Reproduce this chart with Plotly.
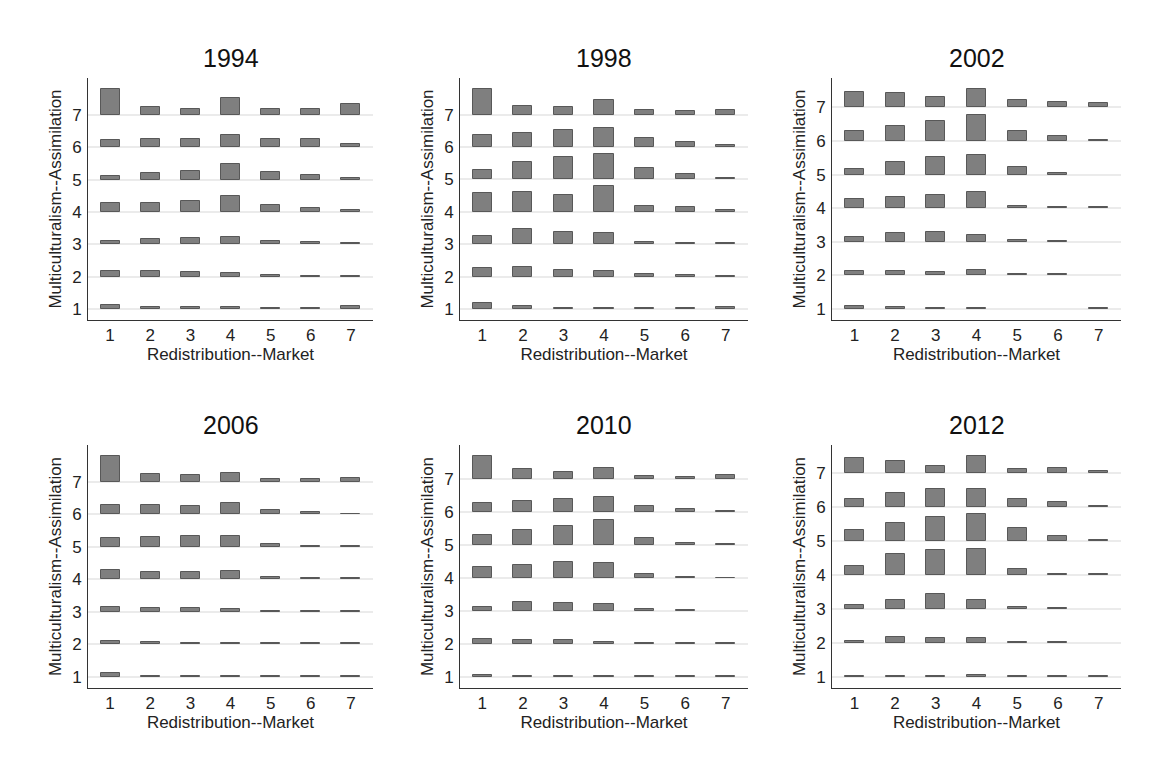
import plotly.graph_objects as go

years = ["1994", "1998", "2002", "2006", "2010", "2012"]
x_labels = [1, 2, 3, 4, 5, 6, 7]
y_levels = [1, 2, 3, 4, 5, 6, 7]

# heights of bars: rows = Multiculturalism--Assimilation level 1..7, cols = Redistribution--Market 1..7
h1994 = [
    [0.13, 0.06, 0.05, 0.07, 0.03, 0.03, 0.08],
    [0.19, 0.18, 0.13, 0.12, 0.06, 0.03, 0.03],
    [0.11, 0.16, 0.18, 0.22, 0.10, 0.08, 0.03],
    [0.29, 0.29, 0.34, 0.50, 0.21, 0.13, 0.07],
    [0.10, 0.21, 0.26, 0.48, 0.24, 0.15, 0.05],
    [0.21, 0.27, 0.26, 0.39, 0.25, 0.26, 0.10],
    [0.80, 0.24, 0.18, 0.51, 0.17, 0.17, 0.34],
]
h1998 = [
    [0.19, 0.10, 0.03, 0.03, 0.03, 0.03, 0.06],
    [0.26, 0.29, 0.21, 0.18, 0.08, 0.05, 0.03],
    [0.26, 0.48, 0.37, 0.34, 0.06, 0.03, 0.04],
    [0.59, 0.60, 0.52, 0.80, 0.18, 0.14, 0.05],
    [0.30, 0.55, 0.68, 0.77, 0.35, 0.17, 0.04],
    [0.36, 0.42, 0.53, 0.58, 0.29, 0.15, 0.06],
    [0.79, 0.26, 0.25, 0.44, 0.14, 0.11, 0.15],
]
h2002 = [
    [0.08, 0.06, 0.03, 0.03, None, None, 0.03],
    [0.12, 0.12, 0.11, 0.15, 0.03, 0.03, None],
    [0.13, 0.26, 0.28, 0.20, 0.04, 0.03, None],
    [0.27, 0.34, 0.38, 0.47, 0.07, 0.03, 0.03],
    [0.18, 0.39, 0.53, 0.59, 0.23, 0.04, None],
    [0.30, 0.44, 0.59, 0.79, 0.29, 0.15, 0.03],
    [0.47, 0.42, 0.32, 0.55, 0.22, 0.17, 0.14],
]
h2006 = [
    [0.11, 0.03, 0.03, 0.03, 0.03, 0.03, 0.03],
    [0.09, 0.07, 0.05, 0.03, 0.03, 0.03, 0.03],
    [0.15, 0.13, 0.11, 0.08, 0.03, 0.03, 0.03],
    [0.30, 0.22, 0.23, 0.26, 0.06, 0.03, 0.03],
    [0.27, 0.29, 0.34, 0.33, 0.08, 0.03, 0.04],
    [0.29, 0.30, 0.26, 0.35, 0.14, 0.06, 0.02],
    [0.79, 0.24, 0.21, 0.27, 0.08, 0.08, 0.10],
]
h2010 = [
    [0.06, 0.04, 0.02, 0.02, 0.02, 0.03, 0.02],
    [0.15, 0.13, 0.11, 0.07, 0.03, 0.02, 0.02],
    [0.11, 0.28, 0.26, 0.23, 0.07, 0.03, None],
    [0.35, 0.40, 0.49, 0.46, 0.13, 0.04, 0.02],
    [0.32, 0.45, 0.59, 0.78, 0.22, 0.08, 0.03],
    [0.27, 0.35, 0.42, 0.46, 0.19, 0.09, 0.04],
    [0.71, 0.31, 0.24, 0.36, 0.11, 0.06, 0.14],
]
h2012 = [
    [0.03, 0.03, 0.03, 0.06, 0.03, 0.03, 0.03],
    [0.07, 0.16, 0.13, 0.13, 0.03, 0.03, None],
    [0.12, 0.27, 0.43, 0.27, 0.07, 0.03, None],
    [0.25, 0.62, 0.72, 0.75, 0.17, 0.02, 0.02],
    [0.31, 0.51, 0.69, 0.78, 0.39, 0.14, 0.02],
    [0.22, 0.39, 0.51, 0.51, 0.23, 0.13, 0.02],
    [0.44, 0.34, 0.20, 0.49, 0.11, 0.13, 0.06],
]
heights = [h1994, h1998, h2002, h2006, h2010, h2012]

W, H = 1149, 768
OFF = 8  # page body margin offset
FONT = "Liberation Sans, Arial, sans-serif"
x_dom_px = [(88, 373), (460, 748), (832, 1121)]
y_dom_px = [(78, 320), (445, 688)]

fig = go.Figure()
annotations = []
for i, (year, hmat) in enumerate(zip(years, heights)):
    r, c = divmod(i, 3)
    ax = "" if i == 0 else str(i + 1)
    xs, bases, hs = [], [], []
    for li, lvl in enumerate(y_levels):
        for ci, xv in enumerate(x_labels):
            v = hmat[li][ci]
            if v is None:
                continue
            xs.append(xv)
            bases.append(lvl)
            hs.append(v)
    fig.add_trace(go.Bar(
        x=xs, y=hs, base=bases, width=0.47,
        marker=dict(color="#7f7f7f", line=dict(color="#585858", width=1)),
        xaxis="x" + ax, yaxis="y" + ax, showlegend=False,
    ))
    top = max(b + h for b, h in zip(bases, hs))
    lo = min(bases)
    span = top - lo
    x0, x1 = [p - OFF for p in x_dom_px[c]]
    y0, y1 = [p - OFF for p in y_dom_px[r]]
    xd = [x0 / W, x1 / W]
    yd = [1 - y1 / H, 1 - y0 / H]
    fig.layout["xaxis" + ax] = dict(
        domain=xd, anchor="y" + ax, range=[0.45, 7.55],
        tickmode="array", tickvals=x_labels, ticktext=[str(v) for v in x_labels],
        showgrid=False, zeroline=False, showline=True, linecolor="#333333", linewidth=1,
        ticks="", ticklabelstandoff=0, tickfont=dict(size=17, color="#222222", family=FONT),
        title=dict(text="Redistribution--Market", font=dict(size=17, color="#222222", family=FONT), standoff=2),
    )
    fig.layout["yaxis" + ax] = dict(
        domain=yd, anchor="x" + ax, range=[lo - 0.05 * span, top + 0.05 * span],
        tickmode="array", tickvals=y_levels, ticktext=[str(v) for v in y_levels],
        showgrid=True, gridcolor="#ebebeb", gridwidth=2, zeroline=False,
        showline=True, linecolor="#333333", linewidth=1,
        ticks="", ticklabelstandoff=2, tickfont=dict(size=17, color="#222222", family=FONT),
        title=dict(text="Multiculturalism--Assimilation", font=dict(size=17, color="#222222", family=FONT), standoff=6),
    )
    annotations.append(dict(
        text=year, x=(x0 + x1) / 2 / W, y=1 - (y0 - 20) / H,
        xref="paper", yref="paper", xanchor="center", yanchor="middle",
        showarrow=False, font=dict(size=25, color="#111111", family=FONT),
    ))

fig.update_layout(
    width=W, height=H, margin=dict(l=0, r=0, t=0, b=0),
    paper_bgcolor="white", plot_bgcolor="white",
    annotations=annotations, bargap=0,
)
fig.write_html("out.html")
